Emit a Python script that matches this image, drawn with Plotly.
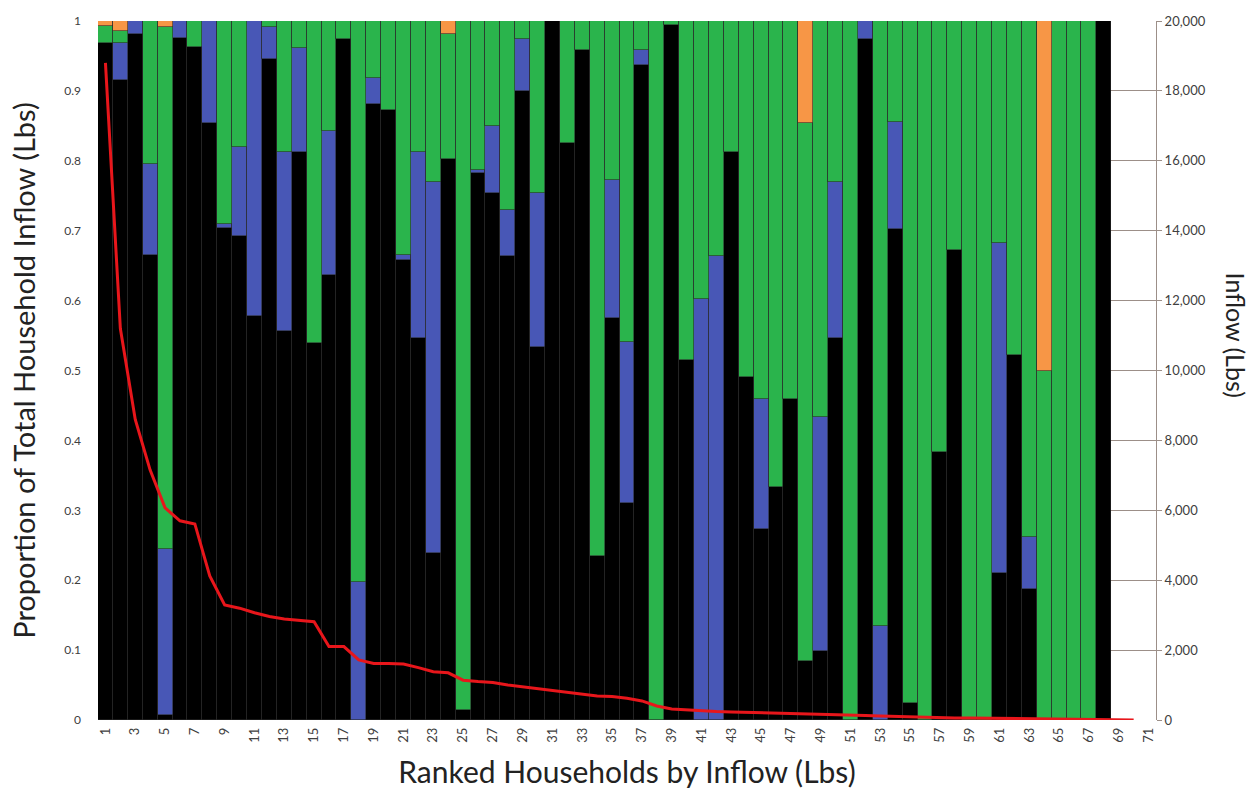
import plotly.graph_objects as go

# Households ranked by total inflow (1 = largest)
households = list(range(1, 69))

# Share of each household's inflow by source (stacked bottom to top)
share_black = [0.968, 0.915, 0.982, 0.665, 0.007, 0.975, 0.963, 0.854, 0.704, 0.693,
               0.578, 0.945, 0.556, 0.813, 0.539, 0.637, 0.974, 0.000, 0.881, 0.873,
               0.658, 0.546, 0.239, 0.803, 0.014, 0.783, 0.754, 0.664, 0.900, 0.533,
               1.000, 0.826, 0.958, 0.234, 0.575, 0.311, 0.937, 0.000, 0.994, 0.515,
               0.000, 0.000, 0.813, 0.491, 0.273, 0.333, 0.459, 0.085, 0.099, 0.546,
               0.000, 0.974, 0.000, 0.702, 0.025, 0.000, 0.383, 0.673, 0.000, 0.000,
               0.211, 0.522, 0.187, 0.000, 0.000, 0.000, 0.000, 1.000]
share_blue = [0.000, 0.053, 0.018, 0.131, 0.237, 0.025, 0.000, 0.146, 0.006, 0.127,
              0.422, 0.047, 0.257, 0.148, 0.000, 0.205, 0.000, 0.198, 0.037, 0.000,
              0.007, 0.267, 0.531, 0.000, 0.000, 0.004, 0.096, 0.066, 0.074, 0.221,
              0.000, 0.000, 0.000, 0.000, 0.198, 0.230, 0.022, 0.000, 0.000, 0.000,
              0.603, 0.664, 0.000, 0.000, 0.186, 0.000, 0.000, 0.000, 0.334, 0.224,
              0.000, 0.026, 0.135, 0.154, 0.000, 0.000, 0.000, 0.000, 0.000, 0.000,
              0.471, 0.000, 0.075, 0.000, 0.000, 0.000, 0.000, 0.000]
share_green = [0.025, 0.018, 0.000, 0.204, 0.748, 0.000, 0.037, 0.000, 0.290, 0.180,
               0.000, 0.008, 0.187, 0.039, 0.461, 0.158, 0.026, 0.802, 0.082, 0.127,
               0.335, 0.187, 0.230, 0.179, 0.986, 0.213, 0.150, 0.270, 0.026, 0.246,
               0.000, 0.174, 0.042, 0.766, 0.227, 0.459, 0.041, 1.000, 0.006, 0.485,
               0.397, 0.336, 0.187, 0.509, 0.541, 0.667, 0.541, 0.769, 0.567, 0.230,
               1.000, 0.000, 0.865, 0.144, 0.975, 1.000, 0.617, 0.327, 1.000, 1.000,
               0.318, 0.478, 0.738, 0.500, 1.000, 1.000, 1.000, 0.000]
share_orange = [0.007, 0.014, 0.000, 0.000, 0.008, 0.000, 0.000, 0.000, 0.000, 0.000,
                0.000, 0.000, 0.000, 0.000, 0.000, 0.000, 0.000, 0.000, 0.000, 0.000,
                0.000, 0.000, 0.000, 0.018, 0.000, 0.000, 0.000, 0.000, 0.000, 0.000,
                0.000, 0.000, 0.000, 0.000, 0.000, 0.000, 0.000, 0.000, 0.000, 0.000,
                0.000, 0.000, 0.000, 0.000, 0.000, 0.000, 0.000, 0.146, 0.000, 0.000,
                0.000, 0.000, 0.000, 0.000, 0.000, 0.000, 0.000, 0.000, 0.000, 0.000,
                0.000, 0.000, 0.000, 0.500, 0.000, 0.000, 0.000, 0.000]

# Total inflow per ranked household (Lbs)
inflow_rank = list(range(1, 71))
inflow_lbs = [18800, 11200, 8600, 7150, 6070, 5700, 5610, 4120, 3290, 3200,
              3070, 2960, 2890, 2860, 2810, 2100, 2100, 1720, 1620, 1620,
              1600, 1500, 1380, 1350, 1140, 1100, 1070, 1000, 950, 890,
              830, 780, 740, 690, 670, 620, 545, 400, 315, 285,
              260, 240, 230, 220, 210, 205, 200, 190, 180, 170,
              150, 130, 115, 100, 90, 80, 70, 60, 55, 50,
              45, 40, 35, 30, 25, 20, 15, 10, 5, 2]

x_ticks = list(range(1, 72, 2))
left_ticks = [round(0.1 * k, 1) for k in range(11)]
left_tick_text = ["0", "0.1", "0.2", "0.3", "0.4", "0.5", "0.6", "0.7", "0.8", "0.9", "1"]
right_ticks = list(range(0, 20001, 2000))

FONT = "Lato, 'Open Sans', sans-serif"
GRID = "#9c8f88"
EDGE = dict(color="#2a2a2a", width=0.6)

fig = go.Figure()
for vals, col in [(share_black, "#000000"), (share_blue, "#4857b6"),
                  (share_green, "#2ab44c"), (share_orange, "#f79646")]:
    fig.add_trace(go.Bar(x=households, y=vals, marker=dict(color=col, line=EDGE),
                         showlegend=False, hoverinfo="skip"))

fig.add_trace(go.Scatter(x=inflow_rank, y=inflow_lbs, yaxis="y2", mode="lines",
                         line=dict(color="#e8161b", width=3), showlegend=False))

fig.update_layout(
    width=1257, height=801,
    margin=dict(l=98, r=101, t=21, b=81),
    paper_bgcolor="white", plot_bgcolor="white",
    barmode="stack", bargap=0,
    font=dict(family=FONT, color="#404040"),
    xaxis=dict(range=[0.5, 71.5], tickmode="array", tickvals=x_ticks,
               tickangle=-90, tickfont=dict(size=13, color="#404040"),
               showgrid=False, zeroline=False, showline=False, ticks="",
               ticklabelstandoff=4,
               title=dict(text="Ranked Households by Inflow (Lbs)",
                          font=dict(size=30, color="#222222"), standoff=20)),
    yaxis=dict(range=[0, 1], tickmode="array", tickvals=left_ticks, ticktext=left_tick_text,
               tickfont=dict(size=12, color="#404040"),
               showgrid=True, gridcolor=GRID, gridwidth=1, zeroline=False,
               showline=False, ticks="", ticklabelstandoff=16,
               title=dict(text="Proportion of Total Household Inflow (Lbs)",
                          font=dict(size=29, color="#222222"), standoff=20)),
    yaxis2=dict(range=[0, 20000], overlaying="y", side="right", tickmode="array",
                tickvals=right_ticks, tickformat=",", tickfont=dict(size=13, color="#404040"),
                showgrid=False, zeroline=False, showline=True, linecolor=GRID,
                linewidth=1, ticks="outside", ticklen=5, tickcolor=GRID),
    annotations=[dict(text="Inflow (Lbs)", xref="paper", yref="paper", x=1.0765, y=0.55,
                      xanchor="center", yanchor="middle", textangle=90, showarrow=False,
                      font=dict(family=FONT, size=25, color="#222222"))],
)

fig.write_html("out.html")
